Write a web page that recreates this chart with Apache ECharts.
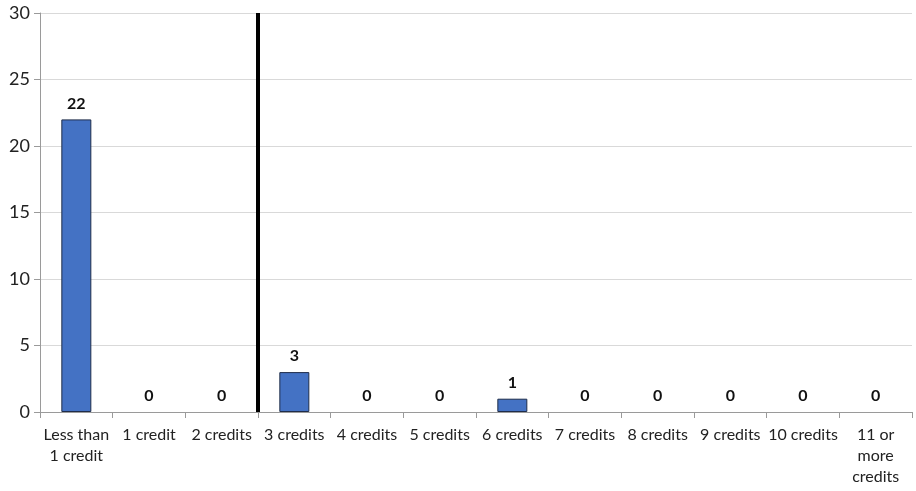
<!DOCTYPE html>
<html><head><meta charset="utf-8">
<script src="https://cdn.jsdelivr.net/npm/echarts@6/dist/echarts.min.js"></script>
<style>html,body{margin:0;padding:0;background:#fff}#c{width:916px;height:491px}</style>
</head><body><div id="c"></div>
<script>
const categories = ["Less than\n1 credit","1 credit","2 credits","3 credits","4 credits","5 credits","6 credits","7 credits","8 credits","9 credits","10 credits","11 or\nmore\ncredits"];
const values = [22,0,0,3,0,0,1,0,0,0,0,0];
const yTicks = {min:0,max:30,interval:5};
const dividerAt = 3;
const font = "Lato, 'Open Sans', sans-serif";
const chart = echarts.init(document.getElementById('c'));
chart.setOption({
  animation:false,
  grid:{left:40,right:4,top:13,bottom:79},
  xAxis:[{
    type:'category',data:categories,
    axisLine:{lineStyle:{color:'#9a9a9a'}},
    axisTick:{show:true,alignWithLabel:false,length:6,lineStyle:{color:'#9a9a9a'}},
    axisLabel:{color:'#222',fontFamily:font,fontSize:16,lineHeight:21,margin:12,interval:0}
  },{
    type:'value',min:0,max:categories.length,show:false
  }],
  yAxis:{
    type:'value',min:yTicks.min,max:yTicks.max,interval:yTicks.interval,
    axisLine:{show:true,lineStyle:{color:'#9a9a9a'}},
    axisTick:{show:true,length:6,lineStyle:{color:'#9a9a9a'}},
    splitLine:{lineStyle:{color:'#d9d9d9'}},
    axisLabel:{color:'#222',fontFamily:font,fontSize:18,margin:10}
  },
  series:[{
    type:'bar',barWidth:30,
    data:values.map(v => v === 0 ? {value:v,itemStyle:{borderColor:'transparent',borderWidth:0}} : v),
    itemStyle:{color:'#4472C4',borderColor:'#1f2d4a',borderWidth:1},
    label:{show:true,position:'top',distance:8,fontWeight:'bold',fontFamily:font,fontSize:16,color:'#111'}
  },{
    type:'line',xAxisIndex:1,data:[],
    markLine:{symbol:'none',silent:true,label:{show:false},
      lineStyle:{color:'#000',width:4,type:'solid'},
      data:[{xAxis:dividerAt}]}
  }]
});
</script></body></html>
